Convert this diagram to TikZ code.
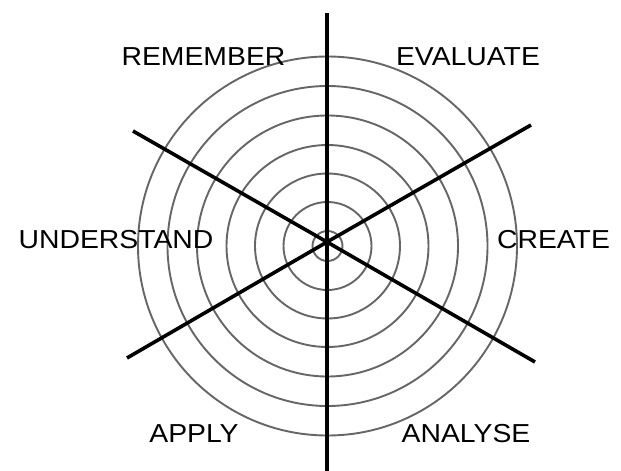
\documentclass[tikz,border=0pt]{standalone}
\usepackage{fontspec}
\newfontfamily\labfont[FakeStretch=1.09]{Liberation Sans}
\begin{document}
\begin{tikzpicture}[x=1pt,y=-1pt,
  ring/.style={draw=black!60,line width=1.9pt},
  spoke/.style={draw=black,line width=3.6pt},
  lab/.style={anchor=base,inner sep=0pt,font=\labfont\fontsize{26}{26}\selectfont,text=black}]
\useasboundingbox (0,0) rectangle (621,471);
\fill[white] (0,0) rectangle (621,471);
\coordinate (c) at (327.5,246);
\foreach \r in {15,44,72.5,101,130.5,160,189.5}
  \draw[ring] (c) circle[radius=\r];
\coordinate (o) at (327,242);
\coordinate (t) at (327,13);
\coordinate (b) at (327,471);
\coordinate (ul) at (133,131);
\coordinate (ur) at (531,125);
\coordinate (ll) at (127,358);
\coordinate (lr) at (535,362);
\draw[spoke] (t) -- (b);
\draw[spoke] (ul) -- (o) -- (lr);
\draw[spoke] (ur) -- (o) -- (ll);
\node[lab] (rem) at (203.5,65) {REMEMBER};
\node[lab] (eva) at (468,65) {EVALUATE};
\node[lab] (und) at (116,248) {UNDERSTAND};
\node[lab] (cre) at (553.5,248) {CREATE};
\node[lab] (app) at (194,442) {APPLY};
\node[lab] (ana) at (466,442) {ANALYSE};
\end{tikzpicture}
\end{document}
